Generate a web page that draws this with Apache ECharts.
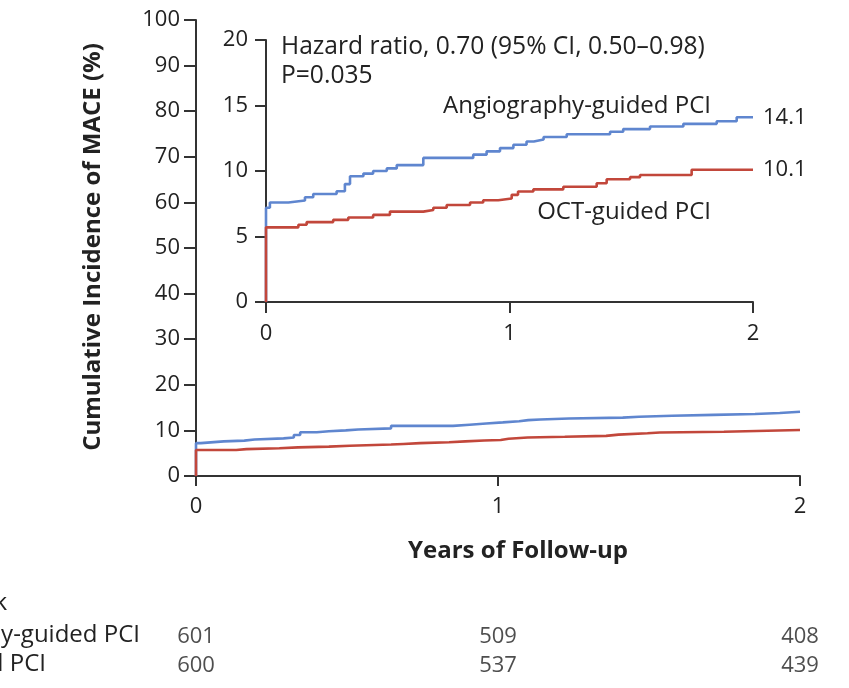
<!DOCTYPE html>
<html><head><meta charset="utf-8">
<script src="https://cdn.jsdelivr.net/npm/echarts@6/dist/echarts.min.js"></script>
<style>html,body{margin:0;padding:0;background:#fff}#c{width:849px;height:688px}</style>
</head><body><div id="c"></div>
<script>
// Kaplan-Meier style cumulative incidence (years, %)
var angioTimes  = [0, 0, 0.016, 0.092, 0.16, 0.194, 0.29, 0.324, 0.345, 0.40, 0.44, 0.496, 0.537, 0.646, 0.851, 0.906, 0.961, 1.016, 1.07, 1.10, 1.14, 1.235, 1.413, 1.467, 1.577, 1.714, 1.851, 1.933, 2.0];
var angioValues = [0, 7.2, 7.6, 7.75, 8.0, 8.25, 8.45, 9.0, 9.6, 9.8, 10.0, 10.2, 10.45, 11.0, 11.25, 11.5, 11.75, 12.0, 12.25, 12.4, 12.6, 12.8, 13.0, 13.2, 13.4, 13.6, 13.8, 14.1, 14.1];
var octTimes    = [0, 0, 0.133, 0.167, 0.276, 0.338, 0.44, 0.509, 0.646, 0.687, 0.742, 0.838, 0.892, 0.954, 1.009, 1.035, 1.098, 1.221, 1.358, 1.399, 1.495, 1.536, 1.748, 2.0];
var octValues   = [0, 5.7, 5.9, 6.1, 6.27, 6.45, 6.65, 6.9, 7.03, 7.2, 7.4, 7.6, 7.77, 7.9, 8.18, 8.43, 8.6, 8.8, 9.07, 9.37, 9.53, 9.7, 10.1, 10.1];
var groups      = ['Angiography-guided PCI', 'OCT-guided PCI'];
var riskTimes   = [0, 1, 2];
var riskAngio   = [601, 509, 408];
var riskOct     = [600, 537, 439];

function pairs(t, v) { return t.map(function (x, i) { return [x, v[i]]; }); }
var angioData = pairs(angioTimes, angioValues);
var octData = pairs(octTimes, octValues);

var FONT = 'Open Sans';
var TXT = '#222';
var AX = '#333';
var BLUE = '#5f86cf';
var RED = '#c2473b';

function valueAxis(gi, min, max, interval, margin, tickLen) {
  return {
    type: 'value', gridIndex: gi, min: min, max: max, interval: interval,
    axisLine: { show: true, lineStyle: { color: AX, width: 2 } },
    axisTick: { show: true, length: tickLen, lineStyle: { color: AX, width: 2 } },
    axisLabel: { show: true, fontFamily: FONT, fontSize: 22, color: TXT, margin: margin },
    splitLine: { show: false }
  };
}

// measure left-aligned start of the at-risk row labels
var mc = document.createElement('canvas').getContext('2d');
mc.font = '24px "' + FONT + '"';
var rowX0 = 140 - mc.measureText(groups[0]).width;

var chart = echarts.init(document.getElementById('c'), null, { renderer: 'canvas' });

var riskSeries = [riskAngio, riskOct].map(function (arr, gi) {
  return {
    type: 'scatter', xAxisIndex: 2, yAxisIndex: 2, symbolSize: 0.1, silent: true,
    data: riskTimes.map(function (t, i) { return [t, groups[gi], arr[i]]; }),
    label: { show: true, position: 'inside', formatter: function (p) { return String(p.value[2]); },
      fontFamily: FONT, fontSize: 22, color: TXT }
  };
});

function lineSeries(name, data, color, xi, yi, endLabel) {
  var s = {
    name: name, type: 'line', step: 'end', xAxisIndex: xi, yAxisIndex: yi,
    data: data, showSymbol: false, symbol: 'none', silent: true, animation: false,
    lineStyle: { color: color, width: 2.6 }, clip: false
  };
  if (endLabel) {
    s.endLabel = { show: true, distance: 10, fontFamily: FONT, fontSize: 22, color: TXT,
      formatter: function (p) { return p.value[1].toFixed(1); } };
  }
  return s;
}

chart.setOption({
  animation: false,
  backgroundColor: '#fff',
  grid: [
    { left: 196, top: 20, width: 604, height: 456 },
    { left: 266, top: 40, width: 487, height: 262 },
    { left: 196, top: 622, width: 604, height: 58 }
  ],
  xAxis: [
    valueAxis(0, 0, 2, 1, 20, 10),
    valueAxis(1, 0, 2, 1, 21, 11),
    { type: 'value', gridIndex: 2, min: 0, max: 2, show: false }
  ],
  yAxis: [
    valueAxis(0, 0, 100, 10, 16, 12),
    valueAxis(1, 0, 20, 5, 18, 11),
    { type: 'category', gridIndex: 2, data: groups, inverse: true, show: false }
  ],
  series: [
    lineSeries(groups[0], angioData, BLUE, 0, 0, false),
    lineSeries(groups[1], octData, RED, 0, 0, false),
    lineSeries(groups[0], angioData, BLUE, 1, 1, true),
    lineSeries(groups[1], octData, RED, 1, 1, true)
  ].concat(riskSeries),
  graphic: [
    { type: 'text', x: 281, y: 47, style: { text: 'Hazard ratio, 0.70 (95% CI, 0.50\u20130.98)', font: '24.6px "' + FONT + '"', fill: TXT, verticalAlign: 'middle' } },
    { type: 'text', x: 281, y: 76, style: { text: 'P=0.035', font: '24.6px "' + FONT + '"', fill: TXT, verticalAlign: 'middle' } },
    { type: 'text', x: 711, y: 106, style: { text: 'Angiography-guided PCI', font: '24px "' + FONT + '"', fill: TXT, align: 'right', verticalAlign: 'middle' } },
    { type: 'text', x: 711, y: 212, style: { text: 'OCT-guided PCI', font: '24px "' + FONT + '"', fill: TXT, align: 'right', verticalAlign: 'middle' } },
    { type: 'text', x: 518, y: 551, style: { text: 'Years of Follow-up', font: 'bold 24px "' + FONT + '"', fill: TXT, align: 'center', verticalAlign: 'middle' } },
    { type: 'text', x: 93, y: 247, rotation: Math.PI / 2, style: { text: 'Cumulative Incidence of MACE (%)', font: 'bold 24px "' + FONT + '"', fill: TXT, align: 'center', verticalAlign: 'middle' } },
    { type: 'text', x: 7, y: 603, style: { text: 'No. at Risk', font: '24px "' + FONT + '"', fill: TXT, align: 'right', verticalAlign: 'middle' } },
    { type: 'text', x: rowX0, y: 635, style: { text: groups[0], font: '24px "' + FONT + '"', fill: TXT, align: 'left', verticalAlign: 'middle' } },
    { type: 'text', x: rowX0, y: 664, style: { text: groups[1], font: '24px "' + FONT + '"', fill: TXT, align: 'left', verticalAlign: 'middle' } }
  ]
});
</script></body></html>
